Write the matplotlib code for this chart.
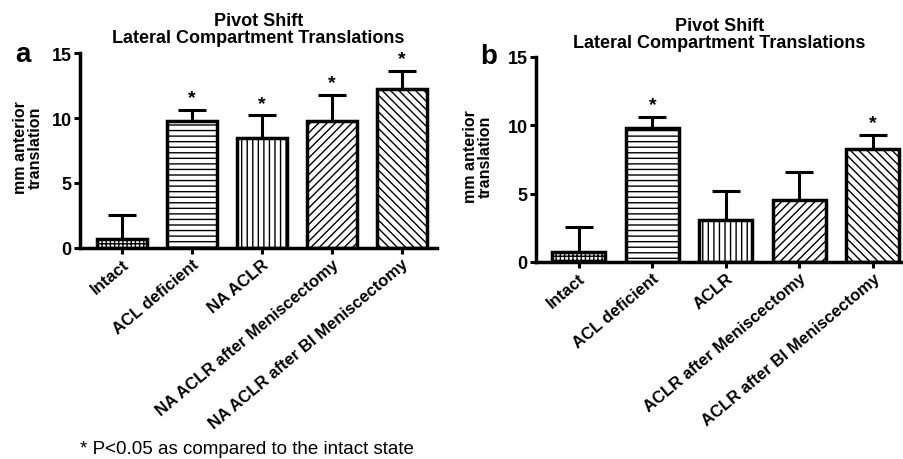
import numpy as np
import matplotlib
matplotlib.use("Agg")
import matplotlib.pyplot as plt

plt.rcParams['font.family'] = ['Liberation Sans', 'DejaVu Sans']
plt.rcParams['hatch.linewidth'] = 1.0

# panel a
labels_a = ["Intact", "ACL deficient", "NA ACLR",
            "NA ACLR after Meniscectomy", "NA ACLR after BI Meniscectomy"]
means_a = [0.7, 9.8, 8.5, 9.8, 12.2]
err_a = [1.8, 0.8, 1.7, 2.0, 1.4]
sig_a = [False, True, True, True, True]

# panel b
labels_b = ["Intact", "ACL deficient", "ACLR",
            "ACLR after Meniscectomy", "ACLR after BI Meniscectomy"]
means_b = [0.7, 9.8, 3.1, 4.5, 8.3]
err_b = [1.85, 0.8, 2.1, 2.1, 1.0]
sig_b = [False, True, False, False, True]

hatches = ['++++', '---', '|||', '////', '\\\\\\\\']
yticks = [0, 5, 10, 15]

LW = 2.5


def draw_panel(ax, labels, means, errs, sig, width, xlim, label_xy, title_pad):
    x = np.arange(len(labels))
    for i in range(len(labels)):
        ax.bar(x[i], means[i], width=width, color='white', edgecolor='black',
               hatch=hatches[i], linewidth=LW, zorder=2)
    ax.errorbar(x, means, yerr=[np.zeros(len(errs)), errs], fmt='none',
                ecolor='black', elinewidth=2.2, capsize=10, capthick=2.2, zorder=1)
    for i in range(len(labels)):
        if sig[i]:
            ax.text(x[i], means[i] + errs[i] + 0.6, "*", ha='center', va='baseline',
                    fontsize=14, fontweight='bold')
    ax.set_ylim(0, 15)
    ax.set_xlim(*xlim)
    ax.set_yticks(yticks)
    ax.set_xticks(x)
    ax.set_xticklabels(labels, rotation=40, ha='right', rotation_mode='anchor',
                       fontsize=12, fontweight='bold')
    for t in ax.get_yticklabels():
        t.set_fontweight('bold')
        t.set_fontsize(13)
    ax.spines['top'].set_visible(False)
    ax.spines['right'].set_visible(False)
    ax.spines['left'].set_linewidth(LW)
    ax.spines['bottom'].set_linewidth(LW)
    ax.tick_params(axis='both', width=2.2, length=4, pad=2)
    ax.set_ylabel("mm anterior\ntranslation", fontsize=11.5, fontweight='bold',
                  linespacing=1.0)
    ax.yaxis.set_label_coords(*label_xy)
    ax.set_title("Pivot Shift\nLateral Compartment Translations", fontsize=13,
                 fontweight='bold', pad=title_pad, linespacing=1.0)


fig = plt.figure(figsize=(9.04, 4.6), dpi=100)
ax_a = fig.add_axes([0.0885, 0.4587, 0.3945, 0.4239])
ax_b = fig.add_axes([0.593, 0.4283, 0.406, 0.4457])

draw_panel(ax_a, labels_a, means_a, err_a, sig_a, 0.714, (-0.6, 4.5),
           (-0.104, 0.52), 8)
draw_panel(ax_b, labels_b, means_b, err_b, sig_b, 0.72, (-0.58, 4.41),
           (-0.117, 0.517), 7)

fig.text(15 / 904, 1 - 55 / 460, "a", fontsize=20, fontweight='bold',
         ha='left', va='center')
fig.text(480 / 904, 1 - 57 / 460, "b", fontsize=20, fontweight='bold',
         ha='left', va='center')
fig.text(80 / 904, 1 - 450 / 460, "* P<0.05 as compared to the intact state",
         fontsize=13.5, ha='left', va='center')

fig.savefig("out.png", dpi=100)
